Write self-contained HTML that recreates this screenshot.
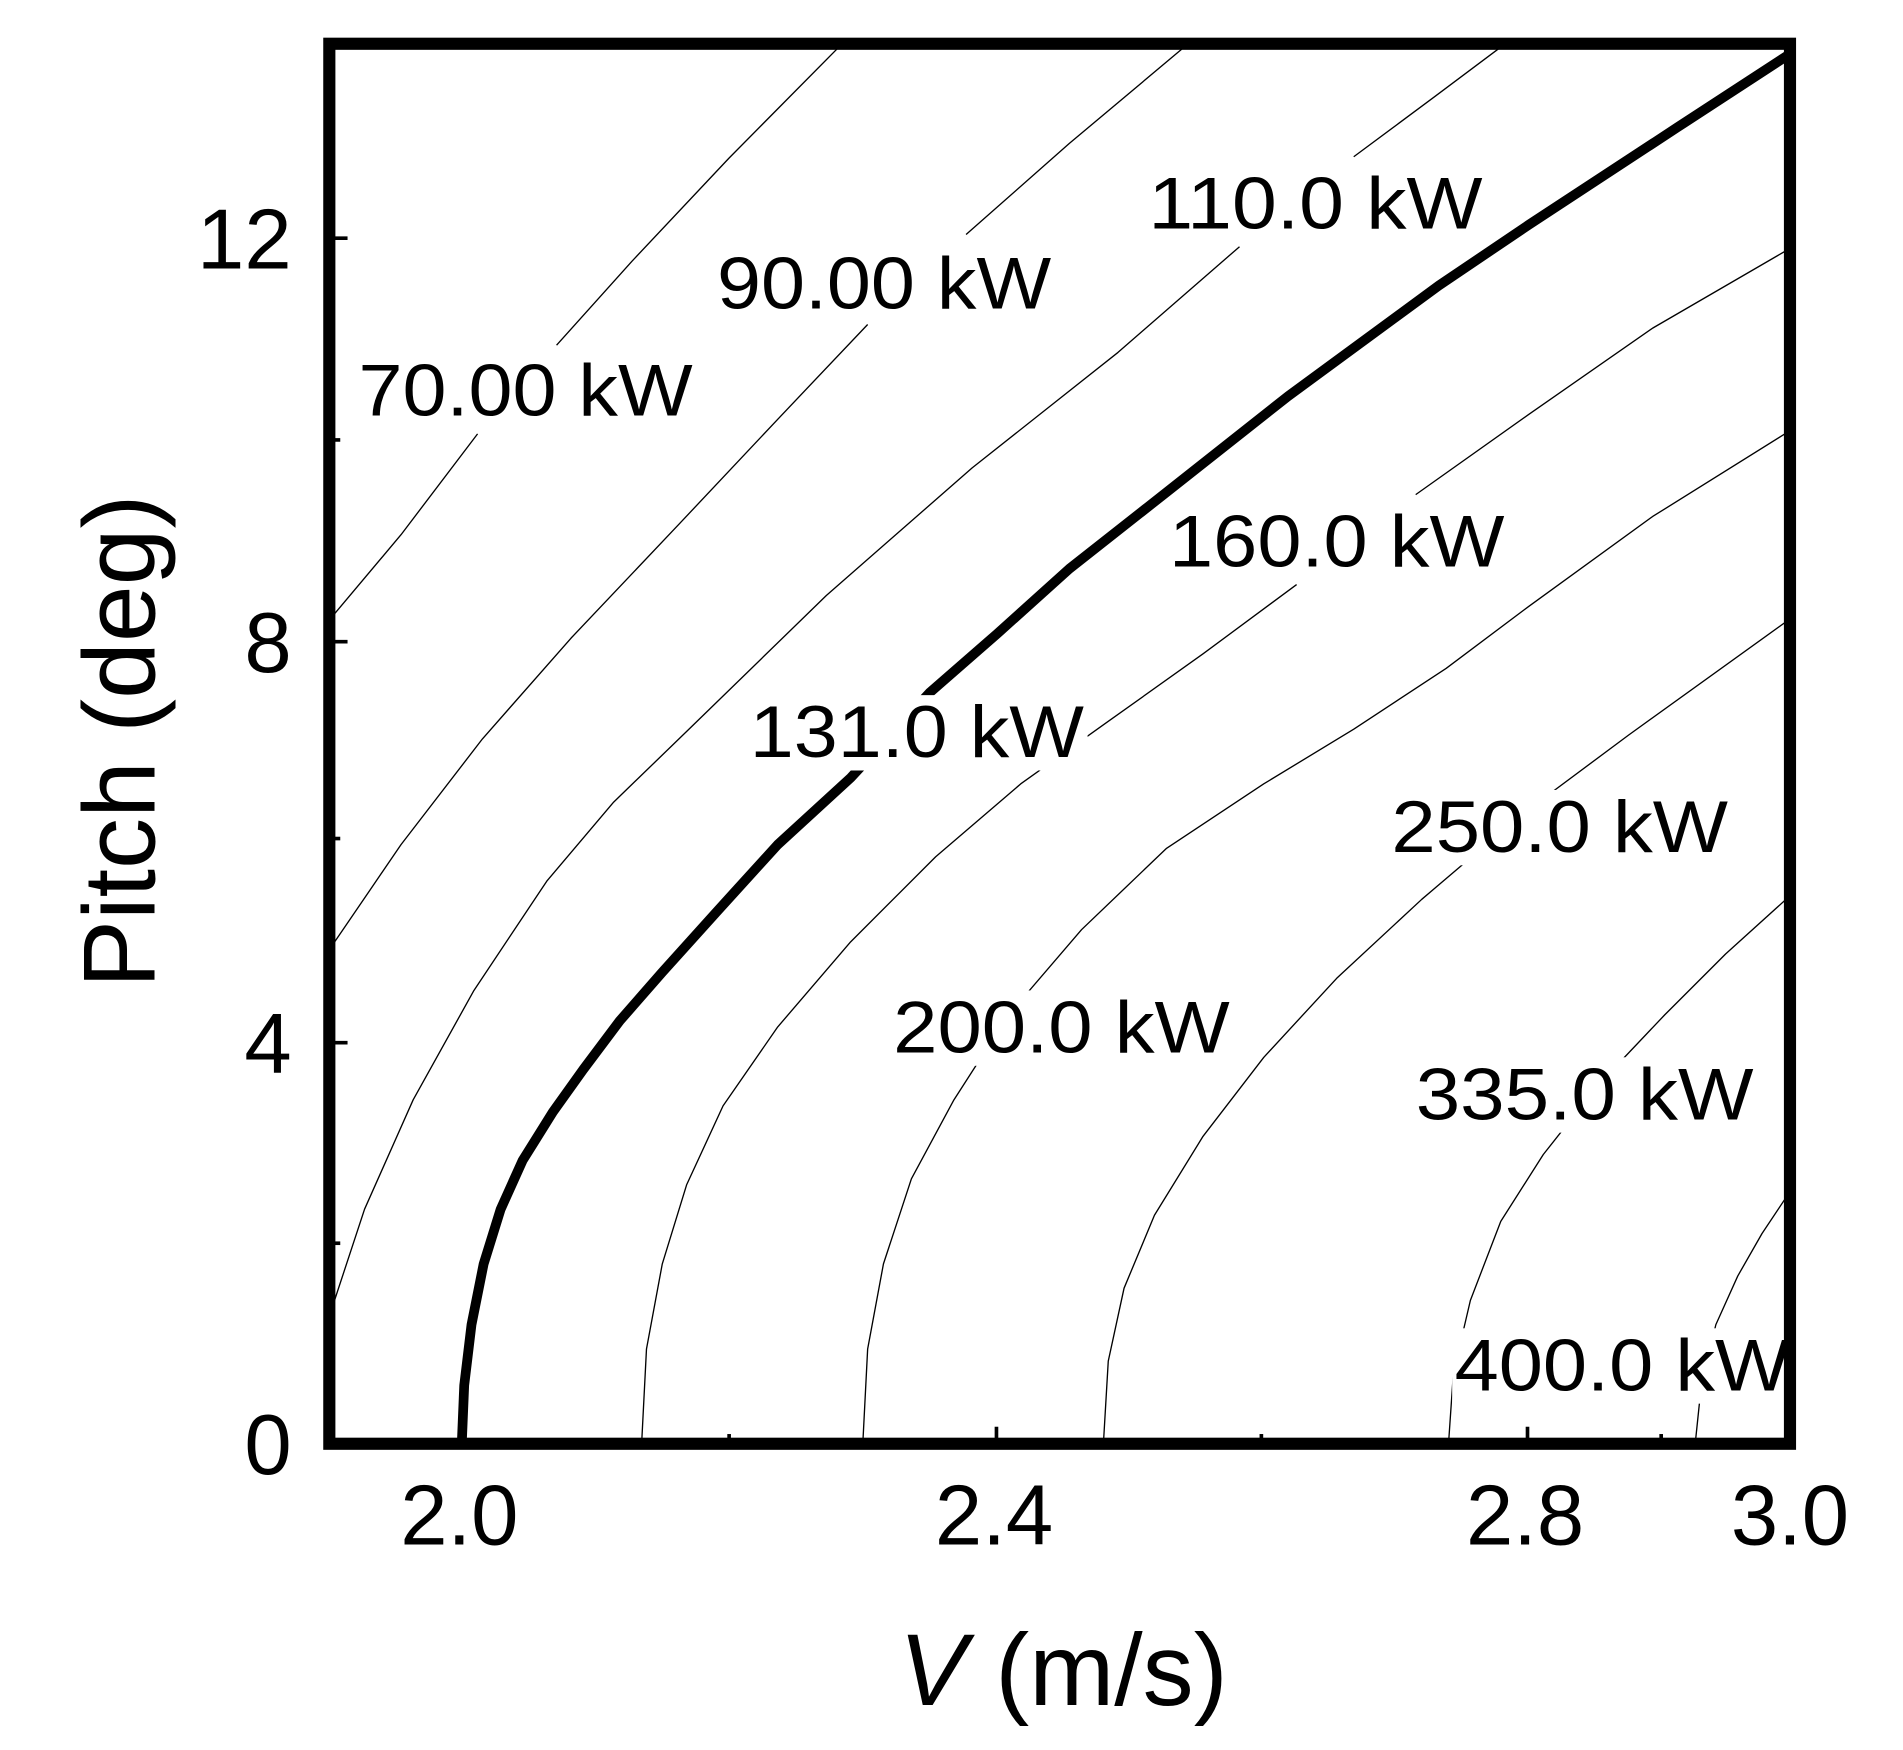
<!DOCTYPE html>
<html><head><meta charset="utf-8"><style>
html,body{margin:0;padding:0;background:#fff;}
svg{display:block;}
text{font-family:"Liberation Sans",Arial,sans-serif;fill:#000;}
</style></head><body>
<svg width="1903" height="1750" viewBox="0 0 1566 1440" preserveAspectRatio="none" xmlns="http://www.w3.org/2000/svg">
<rect width="1566" height="1440" fill="#fff"/>
<g fill="none" stroke="#000" stroke-width="1.1" stroke-linejoin="round">
<polyline points="272,509 330,440 393,357"/>
<polyline points="458,284 520,215 600,130 694,35"/>
<polyline points="272,780 330,695 397,608 470,525 560,430 640,345 714,267"/>
<polyline points="795,193 880,118 979,35"/>
<polyline points="272,1080 300,995 340,905 390,815 450,725 505,660 567,600 680,490 800,385 920,290 1020,203"/>
<polyline points="1114,129 1180,80 1240,35"/>
<polyline points="528,1188 532,1110 545,1040 565,975 595,910 640,845 700,775 770,705 840,645 910,595 990,538 1067,481"/>
<polyline points="1165,407 1258,341 1360,270 1472,205"/>
<polyline points="710,1188 714,1110 727,1040 750,970 785,905 830,835 890,765 960,698 1040,645 1114,600 1190,550 1258,499 1360,425 1472,355"/>
<polyline points="908,1188 912,1120 925,1060 950,1000 990,935 1040,870 1100,805 1170,740 1250,672 1340,605 1472,510"/>
<polyline points="1192,1188 1196,1130 1210,1070 1235,1005 1270,950 1315,893 1370,835 1420,785 1472,738"/>
<polyline points="1395,1188 1400,1140 1412,1090 1430,1050 1450,1015 1472,982"/>
</g>
<polyline fill="none" stroke="#000" stroke-width="8" stroke-linejoin="round" stroke-linecap="butt"
 points="380,1188 382,1140 388,1090 398,1040 412,995 430,955 455,915 480,880 510,840 545,800 590,750 640,695 700,640 765,570 820,522 880,468 960,405 1060,326 1184,235 1258,185 1380,105 1472,45"/>
<g font-size="60">
<g fill="#fff" stroke="none">
<rect x="293" y="290" width="280" height="62"/>
<rect x="588" y="202" width="280" height="62"/>
<rect x="943" y="137" width="280" height="62"/>
<rect x="960" y="415" width="280" height="62"/>
<rect x="615" y="572" width="280" height="62"/>
<rect x="733" y="815" width="282" height="62"/>
<rect x="1143" y="650" width="282" height="62"/>
<rect x="1163" y="870" width="282" height="62"/>
<rect x="1195" y="1093" width="280" height="62"/>
</g>
<text x="295" y="342" textLength="275" lengthAdjust="spacingAndGlyphs">70.00 kW</text>
<text x="590" y="254" textLength="275" lengthAdjust="spacingAndGlyphs">90.00 kW</text>
<text x="945" y="188" textLength="275" lengthAdjust="spacingAndGlyphs">110.0 kW</text>
<text x="962" y="466" textLength="276" lengthAdjust="spacingAndGlyphs">160.0 kW</text>
<text x="617" y="623" textLength="275" lengthAdjust="spacingAndGlyphs">131.0 kW</text>
<text x="735" y="866" textLength="277" lengthAdjust="spacingAndGlyphs">200.0 kW</text>
<text x="1145" y="701" textLength="277" lengthAdjust="spacingAndGlyphs">250.0 kW</text>
<text x="1165" y="921" textLength="278" lengthAdjust="spacingAndGlyphs">335.0 kW</text>
<text x="1197" y="1144" textLength="276" lengthAdjust="spacingAndGlyphs">400.0 kW</text>
</g>
<g stroke="#000" stroke-width="3">
<line x1="272" y1="196" x2="286" y2="196"/><line x1="272" y1="528" x2="286" y2="528"/><line x1="272" y1="858" x2="286" y2="858"/>
<line x1="272" y1="362" x2="280" y2="362"/><line x1="272" y1="690" x2="280" y2="690"/><line x1="272" y1="1023" x2="280" y2="1023"/>
<line x1="820" y1="1188" x2="820" y2="1174"/><line x1="1257" y1="1188" x2="1257" y2="1174"/>
<line x1="600" y1="1188" x2="600" y2="1180"/><line x1="1038" y1="1188" x2="1038" y2="1180"/><line x1="1367" y1="1188" x2="1367" y2="1180"/>
</g>
<rect x="271" y="36" width="1202" height="1152" fill="none" stroke="#000" stroke-width="10"/>
<g font-size="70">
<text x="240" y="221" text-anchor="end">12</text>
<text x="240" y="553" text-anchor="end">8</text>
<text x="240" y="883" text-anchor="end">4</text>
<text x="240" y="1213" text-anchor="end">0</text>
<text x="378" y="1271" text-anchor="middle">2.0</text>
<text x="818" y="1271" text-anchor="middle">2.4</text>
<text x="1255" y="1271" text-anchor="middle">2.8</text>
<text x="1473" y="1271" text-anchor="middle">3.0</text>
</g>
<text x="875" y="1403" font-size="84" text-anchor="middle"><tspan font-style="italic">V</tspan> (m/s)</text>
<text transform="translate(127,610) rotate(-90)" font-size="84" text-anchor="middle">Pitch (deg)</text>
</svg>
</body></html>
